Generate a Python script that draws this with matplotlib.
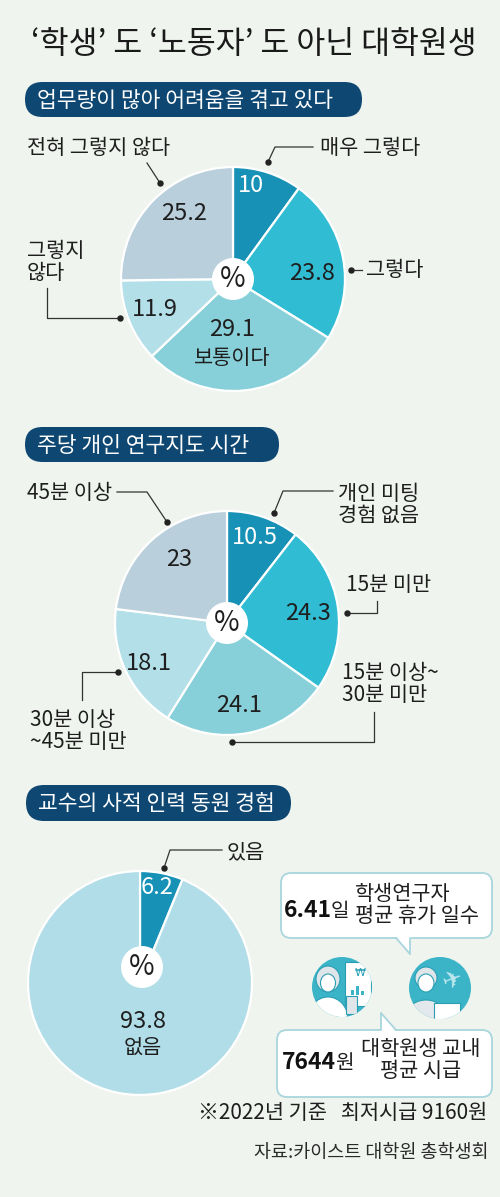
import matplotlib.pyplot as plt
from matplotlib.patches import FancyBboxPatch, Circle, Polygon, Rectangle, Ellipse

plt.rcParams['font.family'] = ['Noto Sans CJK KR', 'DejaVu Sans']

# 데이터
title = "‘학생’ 도 ‘노동자’ 도 아닌 대학원생"

q1_title = "업무량이 많아 어려움을 겪고 있다"
q1_labels = ["매우 그렇다", "그렇다", "보통이다", "그렇지\n않다", "전혀 그렇지 않다"]
q1_values = [10, 23.8, 29.1, 11.9, 25.2]

q2_title = "주당 개인 연구지도 시간"
q2_labels = ["개인 미팅\n경험 없음", "15분 미만", "15분 이상~\n30분 미만", "30분 이상\n~45분 미만", "45분 이상"]
q2_values = [10.5, 24.3, 24.1, 18.1, 23]

q3_title = "교수의 사적 인력 동원 경험"
q3_labels = ["있음", "없음"]
q3_values = [6.2, 93.8]

vacation_days = "6.41"
vacation_text = "학생연구자\n평균 휴가 일수"
hourly_wage = "7644"
hourly_text = "대학원생 교내\n평균 시급"
note = "※2022년 기준   최저시급 9160원"
source = "자료:카이스트 대학원 총학생회"

# 스타일
BG = "#eff4ee"
NAVY = "#0e4772"
INK = "#1e1e1e"
five_colors = ["#1791b6", "#30bcd2", "#88d0d9", "#b2dfe8", "#b9cfdc"]
two_colors = ["#1791b6", "#b0dde7"]
LABEL_SIZE = 15

W, H = 500, 1197


def Y(py):
    # 픽셀 좌표(위에서 아래) -> 데이터 좌표
    return H - py


fig = plt.figure(figsize=(W / 100, H / 100), dpi=100)
fig.patch.set_facecolor(BG)
ax = fig.add_axes([0, 0, 1, 1])
ax.set_facecolor(BG)


def header(x0, x1, y0, y1, text):
    h = y1 - y0
    pill = FancyBboxPatch((x0, Y(y1)), x1 - x0, h,
                          boxstyle=f"round,pad=0,rounding_size={h / 2}",
                          facecolor=NAVY, edgecolor="none", zorder=2)
    ax.add_patch(pill)
    ax.text(x0 + 12, Y((y0 + y1) / 2 + 1), text, color="white", fontsize=15.5,
            ha="left", va="center", zorder=3)


def draw_pie(values, colors, cx, cy, r, pct_xy=None):
    ax.pie(values, colors=colors, startangle=90, counterclock=False,
           center=(cx, Y(cy)), radius=r, frame=True,
           wedgeprops=dict(edgecolor="white", linewidth=1.6))
    if pct_xy is None:
        pct_xy = (cx, cy)
    ax.add_patch(Circle((pct_xy[0], Y(pct_xy[1])), 21, facecolor="white",
                        edgecolor="none", zorder=4))
    ax.text(pct_xy[0], Y(pct_xy[1]), "%", fontsize=20, color=INK,
            ha="center", va="center", zorder=5)


def value(x, y, v, color=INK, size=17):
    ax.text(x, Y(y), f"{v:g}", fontsize=size, color=color,
            ha="center", va="center", zorder=5)


def leader(points):
    xs = [p[0] for p in points]
    ys = [Y(p[1]) for p in points]
    ax.plot(xs, ys, color="#333333", lw=0.9, zorder=3)
    ax.plot(xs[-1], ys[-1], "o", ms=3.6, color="#222222", zorder=6)


def label(x, y, text, ha="left"):
    ax.text(x, Y(y), text, fontsize=LABEL_SIZE, color=INK, ha=ha, va="center",
            linespacing=1.0, zorder=5)


# 제목
ax.text(254, Y(44), title, fontsize=22.6, color="#1a1a1a", ha="center",
        va="center", fontweight="medium")

# ---- 1번 파이
header(25, 362, 82, 117, q1_title)
draw_pie(q1_values, five_colors, 233, 279, 112)
value(251, 186, q1_values[0], color="white")
value(312, 273, q1_values[1])
value(232, 330, q1_values[2])
ax.text(232, Y(358), q1_labels[2], fontsize=LABEL_SIZE, color=INK, ha="center", va="center", zorder=5)
value(155, 310, q1_values[3])
value(184, 214, q1_values[4])

leader([(313, 147), (275, 147), (268, 162)])
label(320, 148, q1_labels[0])
leader([(362, 270), (351, 270)])
label(366, 270, q1_labels[1])
leader([(147, 163), (160, 183)])
label(27, 148, q1_labels[4])
leader([(47, 288), (47, 318), (120, 318)])
label(27, 262, q1_labels[3])

# ---- 2번 파이
header(25, 279, 427, 462, q2_title)
draw_pie(q2_values, five_colors, 227, 623, 112)
value(255, 537, q2_values[0], color="white")
value(308, 613, q2_values[1])
value(239, 706, q2_values[2])
value(149, 663, q2_values[3])
value(179, 559, q2_values[4])

leader([(333, 491), (283, 491), (274, 513)])
label(338, 505, q2_labels[0])
leader([(377, 601), (377, 613), (347, 613)])
label(346, 585, q2_labels[1])
leader([(374, 712), (374, 742), (232, 742)])
label(342, 684, q2_labels[2])
leader([(82, 700), (82, 672), (118, 672)])
label(30, 731, q2_labels[3])
leader([(117, 492), (147, 492), (167, 522)])
label(27, 493, q2_labels[4])

# ---- 3번 파이
header(26, 291, 785, 821, q3_title)
draw_pie(q3_values, two_colors, 140, 983, 112, pct_xy=(142, 967))
value(157, 888, q3_values[0], color="white")
value(143, 1022, q3_values[1])
ax.text(143, Y(1048), q3_labels[1], fontsize=LABEL_SIZE, color=INK, ha="center", va="center", zorder=5)
leader([(222, 850), (170, 850), (164, 868)])
label(227, 852, q3_labels[0])


# ---- 말풍선
def bubble(x0, y0, x1, y1, tail, tail_lines):
    box = FancyBboxPatch((x0, Y(y1)), x1 - x0, y1 - y0,
                         boxstyle="round,pad=0,rounding_size=10",
                         facecolor="white", edgecolor="#a9d5dd", lw=1.3, zorder=3)
    ax.add_patch(box)
    ax.add_patch(Polygon([(x, Y(y)) for x, y in tail], closed=True,
                         facecolor="white", edgecolor="none", zorder=4))
    for seg in tail_lines:
        ax.plot([p[0] for p in seg], [Y(p[1]) for p in seg], color="#a9d5dd",
                lw=1.3, zorder=4, solid_capstyle="round")


bubble(281, 873, 492, 938,
       [(396, 936), (410.5, 936), (410.5, 954)],
       [[(396, 938), (410, 954)], [(410, 954), (410, 938)]])
ax.text(284, Y(917), vacation_days, fontsize=16.5, fontweight="bold", color="#111111",
        ha="left", va="baseline", zorder=5)
ax.text(331, Y(917), "일", fontsize=14.5, color=INK, ha="left", va="baseline", zorder=5)
ax.text(355, Y(905), vacation_text, fontsize=LABEL_SIZE, color=INK, ha="left", va="center",
        linespacing=1.0, zorder=5)

bubble(277, 1030, 492, 1097,
       [(381, 1032), (381, 1013), (396, 1032)],
       [[(381, 1030), (381, 1013)], [(381, 1013), (396, 1030)]])
ax.text(282, Y(1069), hourly_wage, fontsize=16.5, fontweight="bold", color="#111111",
        ha="left", va="baseline", zorder=5)
ax.text(335, Y(1069), "원", fontsize=14.5, color=INK, ha="left", va="baseline", zorder=5)
ax.text(421, Y(1060), hourly_text, fontsize=LABEL_SIZE, color=INK, ha="center", va="center",
        linespacing=1.0, zorder=5)


# ---- 아이콘 (간단한 그림)
def icon(cx, cy, r, kind):
    disc = Circle((cx, Y(cy)), r, facecolor="#3bb4c8", edgecolor="none", zorder=3)
    ax.add_patch(disc)
    parts = []
    if kind == "wage":
        parts.append(Rectangle((cx + 3, Y(1006)), 26, 44, facecolor="white",
                               edgecolor="#2a9fb4", lw=0.8, zorder=4))
        ax.text(cx + 18, Y(973), "₩", fontsize=8, color="#2a9fb4", ha="center",
                va="center", zorder=6, family=["DejaVu Sans"])
        for i, hgt in enumerate([5, 9, 4]):
            parts.append(Rectangle((cx + 9 + i * 5, Y(995)), 3, hgt, facecolor="#3bb4c8",
                                   edgecolor="none", zorder=5))
        parts.append(Ellipse((cx - 14, Y(cy - 8)), 24, 26, facecolor="#dfe5e8",
                             edgecolor="#2a9fb4", lw=0.8, zorder=4))
        parts.append(Ellipse((cx - 14, Y(cy - 4)), 15, 18, facecolor="white",
                             edgecolor="#2a9fb4", lw=0.8, zorder=5))
        parts.append(Ellipse((cx - 14, Y(cy + 32)), 40, 44, facecolor="white",
                             edgecolor="#2a9fb4", lw=0.8, zorder=4))
        parts.append(Rectangle((cx + 4, Y(1014)), 11, 18, facecolor="#dfe5e8",
                               edgecolor="#2a9fb4", lw=0.8, zorder=6))
    else:
        ax.text(cx + 13, Y(cy - 8), "✈", fontsize=17, color="#bfe8ee", ha="center",
                va="center", rotation=20, zorder=4, family=["DejaVu Sans"])
        parts.append(Ellipse((cx - 14, Y(cy + 34)), 46, 44, facecolor="#e2e8eb",
                             edgecolor="#2a9fb4", lw=0.8, zorder=4))
        parts.append(Ellipse((cx - 14, Y(cy - 10)), 22, 22, facecolor="#dfe5e8",
                             edgecolor="#2a9fb4", lw=0.8, zorder=4))
        parts.append(Ellipse((cx - 14, Y(cy - 5)), 16, 18, facecolor="white",
                             edgecolor="#2a9fb4", lw=0.8, zorder=5))
        parts.append(Rectangle((cx - 6, Y(1020)), 26, 17, facecolor="white",
                               edgecolor="#2a9fb4", lw=0.8, zorder=6))
    for p in parts:
        ax.add_patch(p)
        p.set_clip_path(disc)


icon(342, 987, 30, "wage")
icon(440, 988, 31, "travel")

# ---- 각주
ax.text(487, Y(1113), note, fontsize=15, color=INK, ha="right", va="center")
ax.text(489, Y(1153), source, fontsize=13.3, color="#2a2a2a", ha="right", va="center")

ax.set_xlim(0, W)
ax.set_ylim(0, H)
ax.set_aspect("equal")
ax.axis("off")

fig.savefig("out.png", dpi=100, facecolor=BG)
